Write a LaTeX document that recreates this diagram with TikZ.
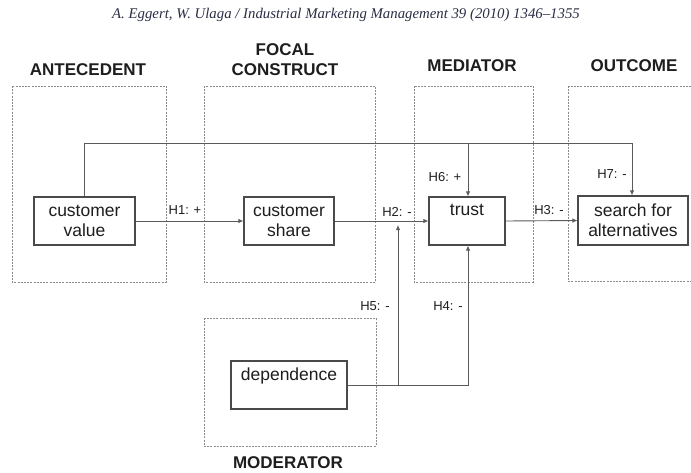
\documentclass[tikz,border=0pt]{standalone}
\usepackage{fontspec}
\setmainfont{Liberation Sans}
\newfontfamily\headserif{Liberation Serif}
\usetikzlibrary{arrows.meta}
\definecolor{framegray}{HTML}{8A8A8A}
\definecolor{boxline}{HTML}{4A4A4A}
\definecolor{wire}{HTML}{5A5A5A}
\definecolor{inktext}{HTML}{1E1E1E}
\definecolor{runhead}{HTML}{2B2D45}
\tikzset{
  x=1pt, y=-1pt,
  group/.style={draw=framegray, line width=0.9pt, dash pattern=on 2pt off 1.2pt},
  concept/.style={draw=boxline, line width=1.1pt, fill=white, inner sep=0pt, align=center,
    font=\fontsize{17.5}{20}\selectfont, text=inktext},
  caption/.style={inner sep=0pt, align=center, font=\fontsize{17.5}{20}\selectfont, text=inktext},
  heading/.style={font=\fontsize{17}{20}\selectfont\bfseries, text=inktext, align=center, inner sep=0pt},
  hyp/.style={font=\fontsize{13}{15}\selectfont, text=inktext, inner sep=0pt},
  link/.style={draw=wire, line width=0.9pt},
  arrowlink/.style={link, -{Latex[length=5pt,width=4.5pt]}},
}
\begin{document}
\begin{tikzpicture}
\useasboundingbox (0,0) rectangle (691,472);
\fill[white] (0,0) rectangle (691,472);

% running head
\node[font=\headserif\itshape\fontsize{14.8}{16}\selectfont, text=runhead, inner sep=0pt] (runninghead) at (346,15)
  {A. Eggert, W. Ulaga / Industrial Marketing Management 39 (2010) 1346–1355};

% column frames
\begin{scope}
\clip (0,0) rectangle (691,472);
\draw[group] (12,86) rectangle (166,282);
\draw[group] (204,86) rectangle (375,282);
\draw[group] (414,86) rectangle (533,282);
\draw[group] (568,86) rectangle (705,281);
\draw[group] (204,318) rectangle (376,446);
\end{scope}

% column headings
\node[heading] (hAnte) at (88,70) {ANTECEDENT};
\node[heading] (hFocal) at (285,60) {FOCAL\\CONSTRUCT};
\node[heading] (hMed) at (472,66) {MEDIATOR};
\node[heading] (hOut) at (634,66) {OUTCOME};
\node[heading] (hMod) at (288,463) {MODERATOR};

% constructs
\node[concept, minimum width=101pt, minimum height=48pt] (value) at (84.5,221) {customer\\value};
\node[concept, minimum width=90pt, minimum height=48pt] (share) at (289,221) {customer\\share};
\node[concept, minimum width=76pt, minimum height=48pt] (trust) at (467,221) {};
\node[caption] (trustlbl) at (467,210) {trust};
\node[concept, minimum width=110pt, minimum height=49pt] (search) at (633,220.5) {search for\\alternatives};
\node[concept, minimum width=116pt, minimum height=48pt] (dep) at (289,385) {};
\node[caption] (deplbl) at (289,376) {dependence};

% connection points
\coordinate (topL) at (84,143);
\coordinate (topM) at (468,143);
\coordinate (topR) at (632,143);
\coordinate (modJ) at (398,385);
\coordinate (modR) at (468,385);
\coordinate (h2tip) at (398,225);

% main chain
\draw[arrowlink] (value.east) -- (share.west);
\draw[arrowlink] (share.east) -- (trust.west);
\draw[arrowlink] (trust.east) -- (search.west);

% direct effects from customer value
\draw[link] (value.north -| topL) -- (topL) -- (topM);
\draw[arrowlink] (topM) -- (topR) -- (search.north -| topR);
\draw[arrowlink] (topM) -- (trust.north -| topM);

% moderation by dependence
\draw[link] (dep.east |- modJ) -- (modJ);
\draw[arrowlink] (modJ) -- (modR) -- (trust.south -| modR);
\draw[arrowlink] (modJ) -- (h2tip);

% hypothesis labels
\node[hyp] (H1) at (185,210) {H1: +};
\node[hyp] (H2) at (397,212) {H2: -};
\node[hyp] (H3) at (549,210) {H3: -};
\node[hyp] (H4) at (448,306) {H4: -};
\node[hyp] (H5) at (375,306) {H5: -};
\node[hyp] (H6) at (445,177) {H6: +};
\node[hyp] (H7) at (612,174) {H7: -};
\end{tikzpicture}
\end{document}
